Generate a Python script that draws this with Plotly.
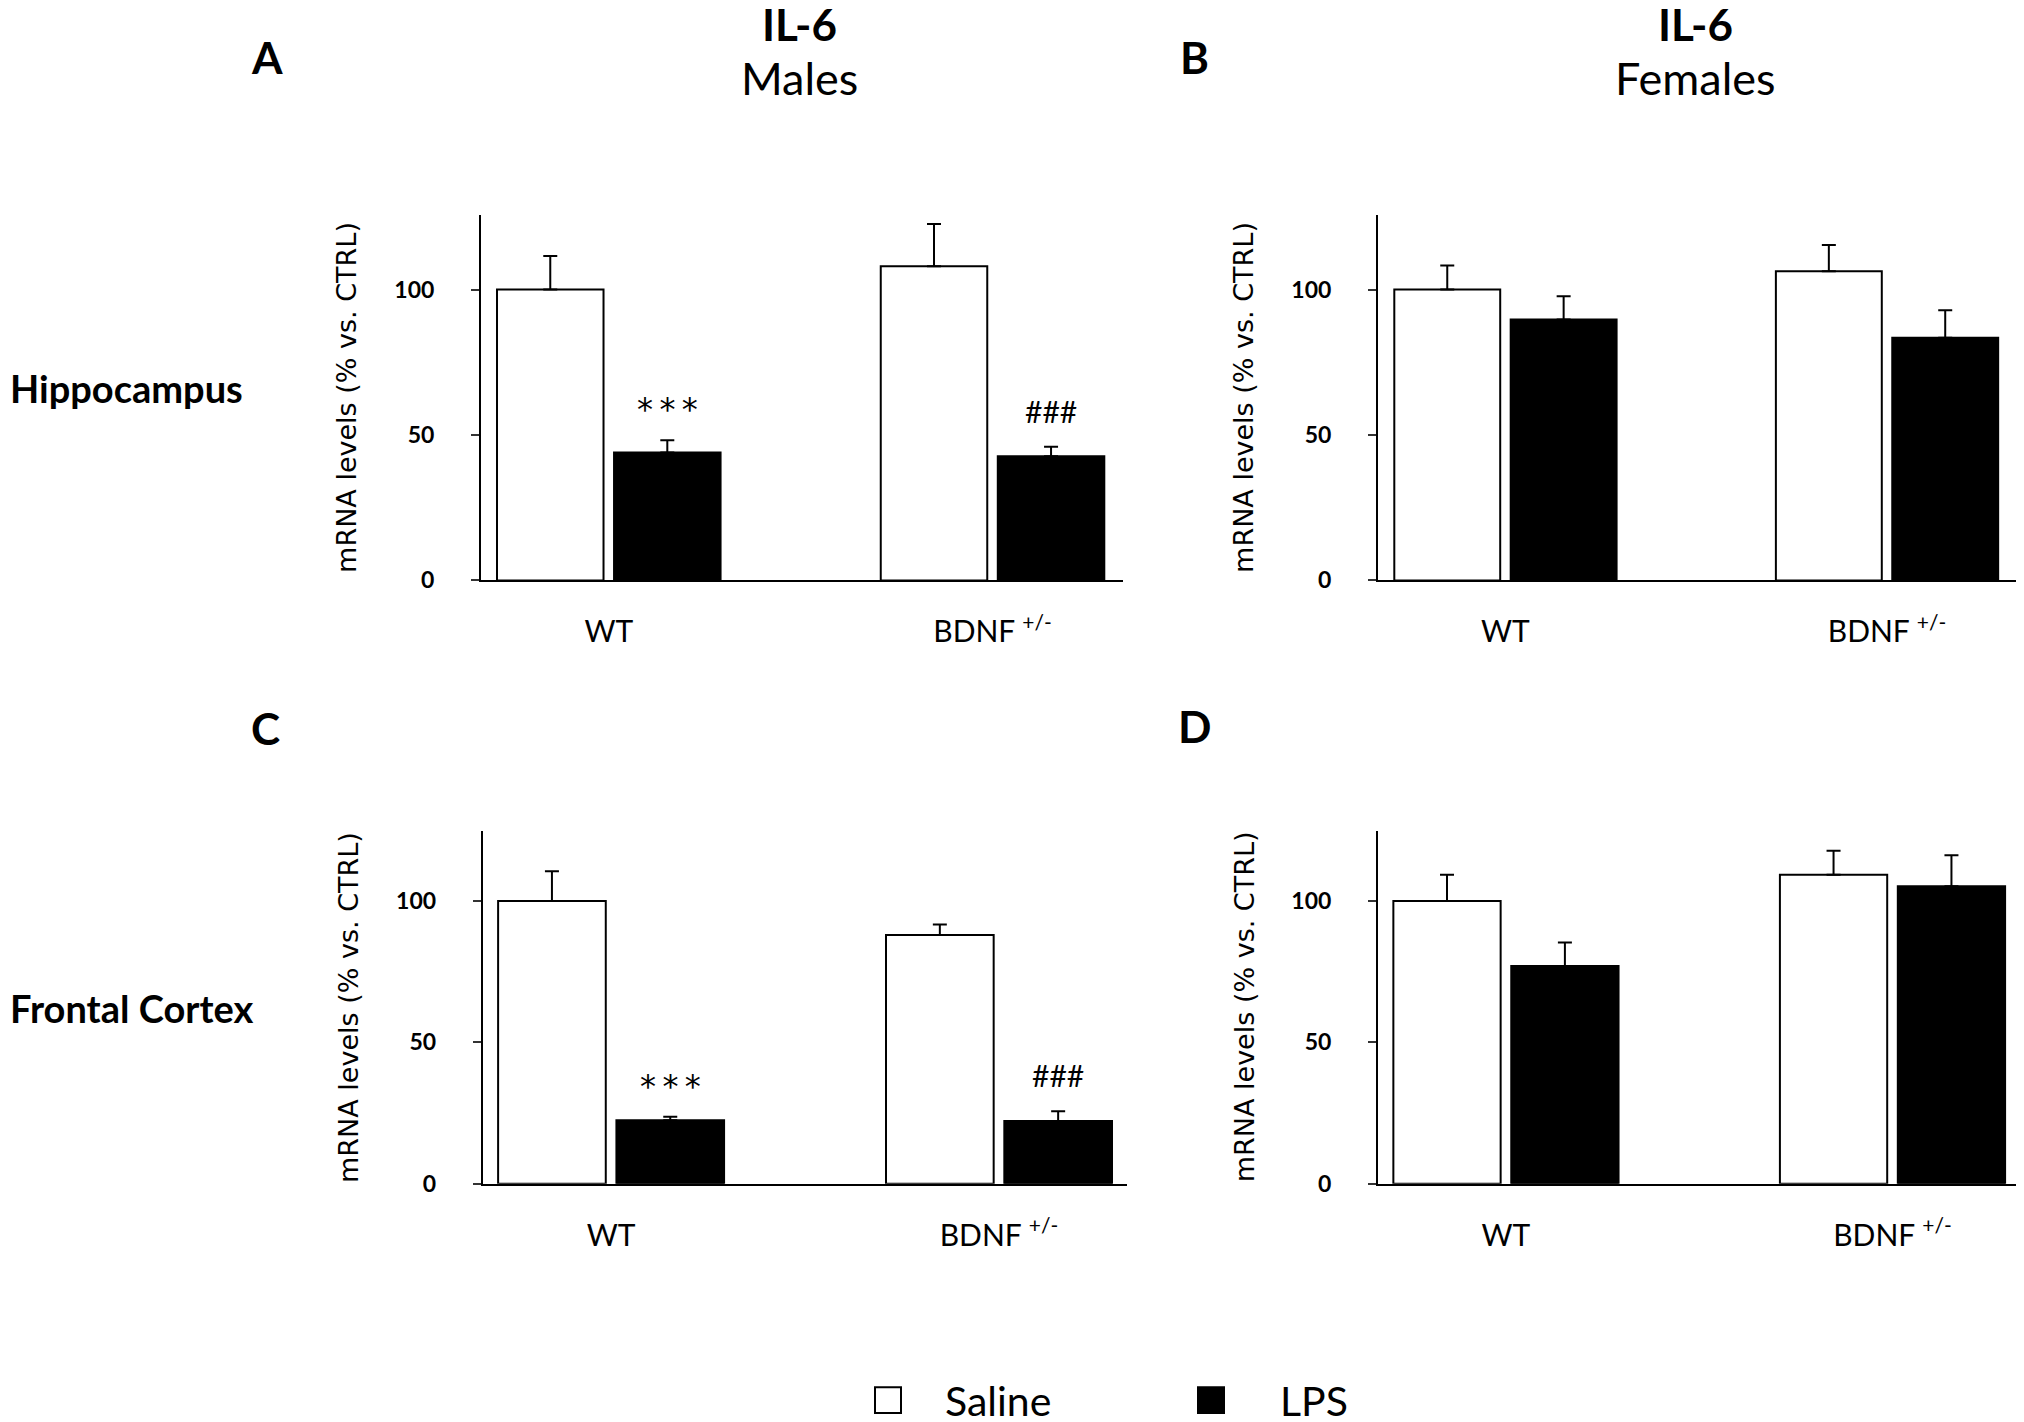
import plotly.graph_objects as go
from plotly.subplots import make_subplots

# genotype groups on the x axis
groups = ["WT", "BDNF <sup>+/-</sup>"]

# IL-6 mRNA levels (% vs. CTRL), mean and upper error bar
hip_male_saline = [100, 108]
hip_male_saline_err = [11.5, 14.5]
hip_male_lps = [44, 42.7]
hip_male_lps_err = [4.2, 3.3]

hip_female_saline = [100, 106.3]
hip_female_saline_err = [8.3, 9.0]
hip_female_lps = [89.7, 83.4]
hip_female_lps_err = [8.0, 9.5]

fc_male_saline = [100, 88]
fc_male_saline_err = [10.5, 3.7]
fc_male_lps = [22.4, 22.2]
fc_male_lps_err = [1.3, 3.4]

fc_female_saline = [100, 109.3]
fc_female_saline_err = [9.3, 8.5]
fc_female_lps = [77, 105.2]
fc_female_lps_err = [8.3, 11.0]

# significance marks drawn over the LPS bars (None = nothing)
hip_male_marks = ["***", "###"]
fc_male_marks = ["***", "###"]

FONT = "Lato"
W, H = 2024, 1422
PADX = 8  # page body offset seen in the browser


def px(x):
    # screen pixel -> paper fraction
    return (x - PADX) / W


def py(y):
    return 1 - y / H


fig = make_subplots(rows=2, cols=2)

panels = [
    (1, 1, hip_male_saline, hip_male_saline_err, hip_male_lps, hip_male_lps_err, hip_male_marks,
     (481, 1123), (209.3, 577.7), [-0.333, 1.34], 125.5),
    (1, 2, hip_female_saline, hip_female_saline_err, hip_female_lps, hip_female_lps_err, None,
     (1378, 2016), (209.3, 577.7), [-0.334, 1.338], 125.5),
    (2, 1, fc_male_saline, fc_male_saline_err, fc_male_lps, fc_male_lps_err, fc_male_marks,
     (482.7, 1127), (830.5, 1186.5), [-0.331, 1.33], 124.8),
    (2, 2, fc_female_saline, fc_female_saline_err, fc_female_lps, fc_female_lps_err, None,
     (1378, 2022), (830.5, 1186.5), [-0.331, 1.335], 124.8),
]

bar_line = dict(color="black", width=2)

for i, (r, c, sal, sal_e, lps, lps_e, marks, xs, ys, xr, ytop) in enumerate(panels):
    fig.add_trace(go.Bar(
        x=groups, y=sal, name="Saline", showlegend=False,
        marker=dict(color="white", line=bar_line),
        error_y=dict(type="data", symmetric=False, array=sal_e, arrayminus=[0] * len(sal),
                     color="black", thickness=2, width=7),
    ), row=r, col=c)
    fig.add_trace(go.Bar(
        x=groups, y=lps, name="LPS", showlegend=False,
        marker=dict(color="black", line=bar_line),
        error_y=dict(type="data", symmetric=False, array=lps_e, arrayminus=[0] * len(lps),
                     color="black", thickness=2, width=7),
    ), row=r, col=c)

    fig.update_xaxes(domain=[px(xs[0]), px(xs[1])], range=xr, showline=True, linecolor="black",
                     linewidth=2, ticks="", ticklabelstandoff=24, showgrid=False, zeroline=False,
                     tickfont=dict(family=FONT, size=30, color="black"), row=r, col=c)
    fig.update_yaxes(domain=[py(ys[1]), py(ys[0])], range=[0, ytop], showline=True,
                     linecolor="black", linewidth=2,
                     tickvals=[0, 50, 100], ticks="outside", ticklen=8, tickcolor="#333333",
                     tickwidth=2, ticklabelstandoff=32, showgrid=False, zeroline=False,
                     tickfont=dict(family=FONT, size=23, color="black", weight="bold"),
                     row=r, col=c)

    # y axis title
    fig.add_annotation(text="mRNA levels (% vs. CTRL)", xref="paper", yref="paper",
                       x=px(xs[0] - 134), y=py((ys[0] + ys[1]) / 2), textangle=-90,
                       xanchor="center", yanchor="middle", showarrow=False,
                       font=dict(family="DejaVu Sans", size=27, color="black"))

    if marks:
        xa = "x" if i == 0 else "x%d" % (i + 1)
        ya = "y" if i == 0 else "y%d" % (i + 1)
        for k, m in enumerate(marks):
            top = lps[k] + lps_e[k]
            if m.startswith("*"):
                txt = "\u2009".join(m)
                fnt = dict(family="DejaVu Sans", size=32, color="black")
                shift = 31
            else:
                txt = m
                fnt = dict(family=FONT, size=30, color="black")
                shift = 36
            fig.add_annotation(text=txt, xref=xa, yref=ya, x=k + 0.153, y=top,
                               xanchor="center", yanchor="middle", yshift=shift,
                               showarrow=False, font=fnt)

fig.update_layout(barmode="group", bargap=0.39, bargroupgap=0.09)

# column titles
for xc, sex in [(799, "Males"), (1695, "Females")]:
    fig.add_annotation(text="<b>IL-6</b>", xref="paper", yref="paper", x=px(xc), y=py(16),
                       xanchor="center", yanchor="middle", showarrow=False,
                       font=dict(family=FONT, size=44, color="black"))
    fig.add_annotation(text=sex, xref="paper", yref="paper", x=px(xc), y=py(71),
                       xanchor="center", yanchor="middle", showarrow=False,
                       font=dict(family=FONT, size=45, color="black"))

# panel letters
for txt, xl, yl in [("A", 267, 49), ("B", 1194, 49), ("C", 265, 727), ("D", 1194, 725)]:
    fig.add_annotation(text="<b>%s</b>" % txt, xref="paper", yref="paper", x=px(xl), y=py(yl),
                       xanchor="center", yanchor="middle", showarrow=False,
                       font=dict(family=FONT, size=44, color="black"))

# row labels
for txt, yl in [("Hippocampus", 384), ("Frontal Cortex", 1009)]:
    fig.add_annotation(text="<b>%s</b>" % txt, xref="paper", yref="paper", x=px(8), y=py(yl),
                       xanchor="left", yanchor="middle", showarrow=False,
                       font=dict(family=FONT, size=38, color="black"))

# legend drawn by hand
fig.add_shape(type="rect", xref="paper", yref="paper", x0=px(875), x1=px(901),
              y0=py(1418), y1=py(1392), fillcolor="white", line=dict(color="black", width=2))
fig.add_shape(type="rect", xref="paper", yref="paper", x0=px(1198), x1=px(1224),
              y0=py(1418), y1=py(1392), fillcolor="black", line=dict(color="black", width=2))
fig.add_annotation(text="Saline", xref="paper", yref="paper", x=px(943), y=py(1405),
                   xanchor="left", yanchor="middle", showarrow=False,
                   font=dict(family=FONT, size=41, color="black"))
fig.add_annotation(text="LPS", xref="paper", yref="paper", x=px(1278), y=py(1405),
                   xanchor="left", yanchor="middle", showarrow=False,
                   font=dict(family=FONT, size=41, color="black"))

fig.update_layout(width=W, height=H, margin=dict(l=0, r=0, t=0, b=0),
                  plot_bgcolor="white", paper_bgcolor="white", showlegend=False)

fig.write_html("out.html")
